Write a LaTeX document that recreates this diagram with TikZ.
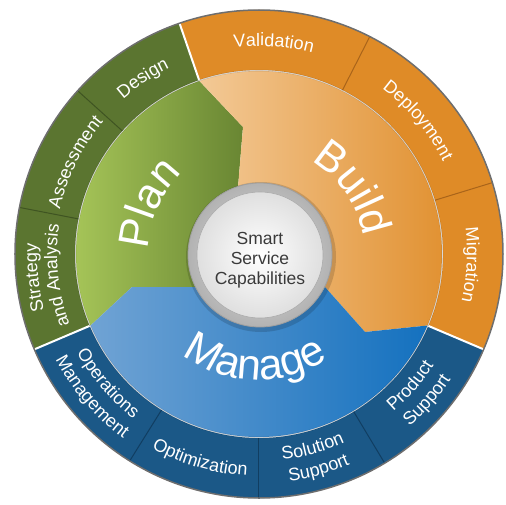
\documentclass[tikz,border=0pt]{standalone}
\usepackage{fontspec}
\setmainfont{Liberation Sans}
\usetikzlibrary{decorations.text}

\definecolor{planring}{HTML}{5B7530}
\definecolor{planline}{HTML}{3F5422}
\definecolor{planlight}{HTML}{A9C85A}
\definecolor{plandark}{HTML}{63802F}
\definecolor{buildring}{HTML}{DF8B27}
\definecolor{buildline}{HTML}{A9641A}
\definecolor{buildlight}{HTML}{F3C996}
\definecolor{builddark}{HTML}{E19131}
\definecolor{managering}{HTML}{1B5887}
\definecolor{manageline}{HTML}{113E62}
\definecolor{managelight}{HTML}{70A3D4}
\definecolor{managedark}{HTML}{1471BF}
\definecolor{rimgray}{HTML}{6E6E6E}
\definecolor{corering}{HTML}{B2B2B2}
\definecolor{coretext}{HTML}{3A3A3A}

\newcommand{\lblfont}{\fontsize{18}{18}\selectfont\color{white}}
\newcommand{\bigfont}{\fontsize{43}{43}\selectfont\color{white}}
% text along an arc, centred on angle #2 at radius #3
\newcommand{\cwlabel}[4][\lblfont]{%
	\path[decorate,decoration={text along path,text align=center,text={|#1|#4}}]
		(#2+40:#3) arc[start angle=#2+40, end angle=#2-40, radius=#3];}
\newcommand{\ccwlabel}[4][\lblfont]{%
	\path[decorate,decoration={text along path,text align=center,text={|#1|#4}}]
		(#2-40:#3) arc[start angle=#2-40, end angle=#2+40, radius=#3];}

\begin{document}
\begin{tikzpicture}[x=1pt,y=1pt]
	\useasboundingbox (-259,-250) rectangle (247,254);

	% outer ring
	\fill[planring] (109:184) arc[start angle=109, end angle=203, radius=184]
		-- (203:244) arc[start angle=203, end angle=109, radius=244] -- cycle;
	\fill[managering] (203:184) arc[start angle=203, end angle=337, radius=184]
		-- (337:244) arc[start angle=337, end angle=203, radius=244] -- cycle;
	\fill[buildring] (-23:184) arc[start angle=-23, end angle=109, radius=184]
		-- (109:244) arc[start angle=109, end angle=-23, radius=244] -- cycle;
	\foreach \a/\c in {138/planline, 169/planline, 238/manageline, 270/manageline,
		301/manageline, 17/buildline, 63/buildline} {
		\draw[\c, line width=1] (\a:184) -- (\a:244);
	}
	\foreach \a in {109, 203, 337} {
		\draw[white, line width=2] (\a:184) -- (\a:244);
	}
	\draw[rimgray, line width=1.5] (0,0) circle (244);

	% inner wedges
	\shade[left color=planlight, right color=plandark]
		(203:183) arc[start angle=203, end angle=109, radius=183]
		-- (-16,127) -- (-24,30) -- (0,0) -- (-40,-33) -- (-127,-33) -- cycle;
	\shade[left color=buildlight, right color=builddark]
		(109:183) arc[start angle=109, end angle=-23, radius=183]
		-- (106,-78) -- (66,-33) -- (40,-4) -- (0,0) -- (-24,30) -- (-16,127) -- cycle;
	\shade[left color=managelight, right color=managedark]
		(-23:183) arc[start angle=-23, end angle=-157, radius=183]
		-- (-127,-33) -- (-40,-33) -- (0,0) -- (40,-4) -- (66,-33) -- (106,-78) -- cycle;
	\draw[black, opacity=.15, line width=1.5] (0,0) circle (183.5);

	% phase names
	\cwlabel[\bigfont]{155.5}{111}{Plan}
	\cwlabel[\bigfont]{35}{106}{Build}
	\ccwlabel[\bigfont]{268}{126}{Manage}

	% capabilities
	\cwlabel{123.5}{206}{Design}
	\cwlabel{153.5}{204}{Assessment}
	\cwlabel{186}{222}{Strategy}
	\cwlabel{186}{202}{and Analysis}
	\cwlabel{86}{208}{Validation}
	\cwlabel{40}{206}{Deployment}
	\cwlabel{-3}{208}{Migration}
	\ccwlabel{220.5}{207}{Operations}
	\ccwlabel{220.5}{229}{Management}
	\ccwlabel{254}{222}{Optimization}
	\ccwlabel{285.5}{207}{Solution}
	\ccwlabel{285.5}{229}{Support}
	\ccwlabel{319}{207}{Product}
	\ccwlabel{319}{229}{Support}

	% centre
	\fill[black, opacity=.15] (2,-3) circle (75);
	\shade[inner color=gray!20, outer color=corering] (1,-1) circle (72);
	\draw[gray!75, line width=.8] (1,-1) circle (72);
	\shade[inner color=white, outer color=gray!25] (1,-1) circle (63);
	\draw[gray!65, line width=.6] (1,-1) circle (63);
	\node[align=center, text=coretext, font=\fontsize{17.5}{20}\selectfont] (core) at (1,-6)
		{Smart\\Service\\Capabilities};
\end{tikzpicture}
\end{document}
